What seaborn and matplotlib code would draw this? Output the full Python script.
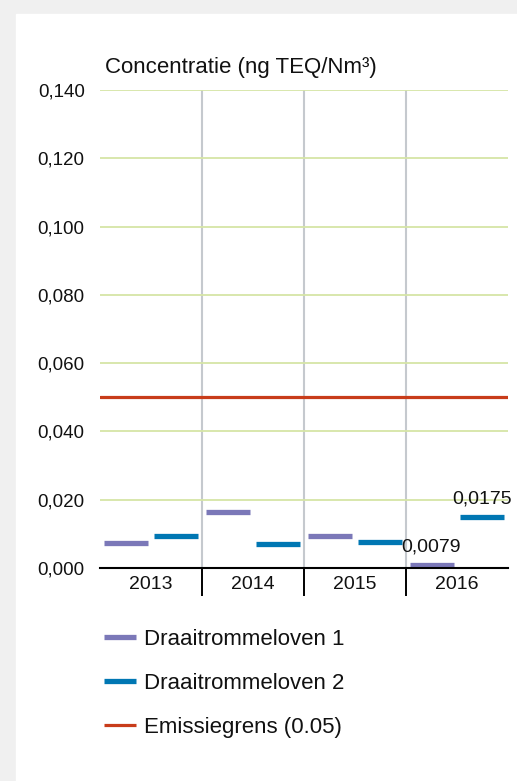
import matplotlib
matplotlib.use('Agg')
import pandas as pd
import matplotlib.pyplot as plt
import seaborn as sns
from matplotlib.patches import Rectangle
from matplotlib.lines import Line2D

# gegevens
jaren = ['2013', '2014', '2015', '2016']
oven1 = [0.0072, 0.0163, 0.0095, 0.0009]
oven2 = [0.0095, 0.0071, 0.0076, 0.0148]
labels_2016 = ['0,0079', '0,0175']
grens = 0.05
series = ['Draaitrommeloven 1', 'Draaitrommeloven 2']
grens_label = 'Emissiegrens (0.05)'
y_ticks = [0.0, 0.02, 0.04, 0.06, 0.08, 0.10, 0.12, 0.14]

kleuren = ['#7b78b8', '#0077b3']
grens_kleur = '#c83c1a'

df = pd.DataFrame({
    'Jaar': jaren * 2,
    'Waarde': oven1 + oven2,
    'Oven': [series[0]] * len(jaren) + [series[1]] * len(jaren),
})

sns.set_style('white')
plt.rcParams['font.family'] = ['Liberation Sans', 'DejaVu Sans']

W, H = 517, 781
fig = plt.figure(figsize=(W / 100, H / 100), dpi=100)
fig.add_artist(Rectangle((0, 0), 1, 1, transform=fig.transFigure,
                         color='#f0f0f0', zorder=-10))
fig.add_artist(Rectangle((16 / W, 0), 1, 1 - 14 / H, transform=fig.transFigure,
                         color='white', zorder=-9))

ax = fig.add_axes([100 / W, 1 - 568 / H, 408 / W, 478 / H])
ax.patch.set_alpha(0)

sns.pointplot(data=df, x='Jaar', y='Waarde', hue='Oven', palette=kleuren,
              dodge=0.49, markers='_', linestyle='none', errorbar=None,
              markersize=31, markeredgewidth=3.8, legend=False, ax=ax)

ax.axhline(grens, color=grens_kleur, lw=2.3, zorder=3)

# labels boven de 2016 waarden
for i, (waarde, tekst) in enumerate(zip([oven1[3], oven2[3]], labels_2016)):
    ax.annotate(tekst, xy=(3 - 0.245 + 0.49 * i, waarde), xytext=(-1 if i == 0 else 0, 10),
                textcoords='offset points', ha='center', va='baseline',
                fontsize=14, color='#111111')

ax.set_xlim(-0.5, 3.5)
ax.set_ylim(0, 0.14)
ax.set_yticks(y_ticks)
ax.set_yticklabels([f'{v:.3f}'.replace('.', ',') for v in y_ticks])
ax.set_xticks([0.5, 1.5, 2.5], minor=True)
ax.set_axisbelow(True)
ax.yaxis.grid(True, color='#d6e5a6', lw=1.3)
ax.xaxis.grid(True, which='minor', color='#c5c9ce', lw=1.5)
ax.xaxis.grid(False, which='major')
ax.tick_params(axis='x', which='major', bottom=True, length=0, pad=6,
               labelsize=14, labelcolor='#111111')
ax.tick_params(axis='x', which='minor', bottom=True, length=20, width=1.4,
               color='black', direction='out')
ax.tick_params(axis='y', length=0, pad=11, labelsize=13.5, labelcolor='#111111')
for kant in ['left', 'top', 'right']:
    ax.spines[kant].set_visible(False)
ax.spines['bottom'].set_color('black')
ax.spines['bottom'].set_linewidth(1.5)
ax.set_xlabel('')
ax.set_ylabel('')

fig.text(105 / W, 1 - 67 / H, 'Concentratie (ng TEQ/Nm³)', fontsize=16,
         va='center', ha='left', color='#111111')

handles = [Line2D([], [], color=kleuren[0], lw=3.8, solid_capstyle='butt'),
           Line2D([], [], color=kleuren[1], lw=3.8, solid_capstyle='butt'),
           Line2D([], [], color=grens_kleur, lw=2.3, solid_capstyle='butt')]
fig.legend(handles, series + [grens_label], loc='upper left',
           bbox_to_anchor=(104 / W, 1 - 629 / H), frameon=False,
           borderpad=0, borderaxespad=0, fontsize=16,
           handlelength=1.42, handletextpad=0.36, labelspacing=1.03,
           labelcolor='#111111')

fig.savefig('out.png', dpi=100)
